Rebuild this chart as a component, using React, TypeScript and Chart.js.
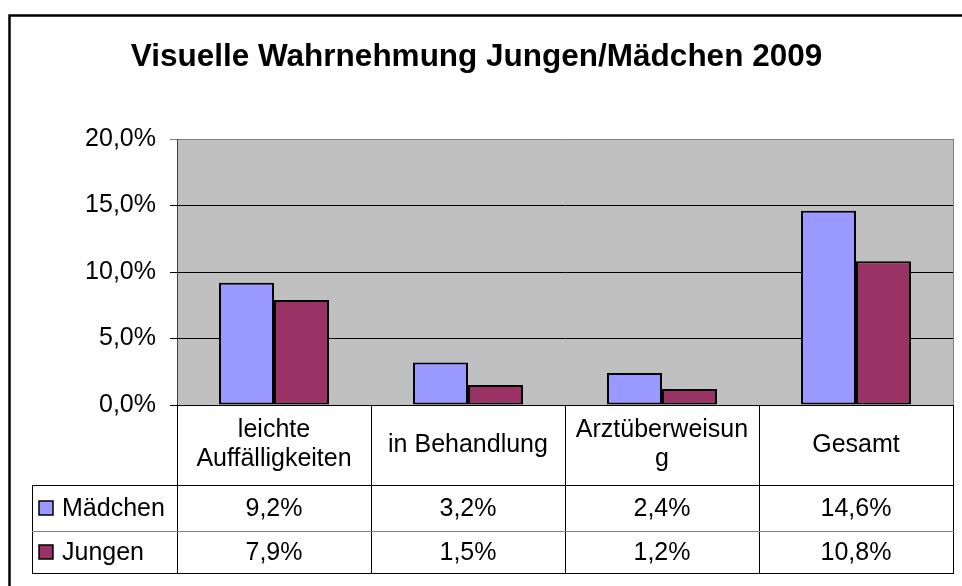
import React, { useEffect, useRef } from "react";
import { Chart, registerables } from "chart.js";

Chart.register(...registerables);

const titleText = "Visuelle Wahrnehmung Jungen/Mädchen 2009";
const categories: string[][] = [
  ["leichte", "Auffälligkeiten"],
  ["in Behandlung"],
  ["Arztüberweisun", "g"],
  ["Gesamt"],
];
const seriesNames = ["Mädchen", "Jungen"];
const maedchen = [9.2, 3.2, 2.4, 14.6];
const jungen = [7.9, 1.5, 1.2, 10.8];
const seriesColors = ["#9999FF", "#993366"];
const yMin = 0;
const yMax = 20;
const yStep = 5;

const FONT = "'Liberation Sans', Arial, sans-serif";
const fmt = (v: number) => v.toFixed(1).replace(".", ",") + "%";

const W = 962;
const H = 586;

const framePlugin = {
  id: "excelFrame",
  beforeDraw(chart: any) {
    const { ctx, chartArea: a } = chart;
    ctx.save();
    ctx.fillStyle = "#ffffff";
    ctx.fillRect(0, 0, W, H);
    ctx.fillStyle = "#C0C0C0";
    ctx.fillRect(a.left, a.top, a.right - a.left, a.bottom - a.top);
    ctx.restore();
  },
  afterDraw(chart: any) {
    const { ctx, chartArea: a } = chart;
    const x = chart.scales.x;
    ctx.save();
    // plot right border
    ctx.strokeStyle = "#808080";
    ctx.lineWidth = 1;
    ctx.beginPath();
    ctx.moveTo(a.right + 0.5, a.top);
    ctx.lineTo(a.right + 0.5, a.bottom);
    ctx.stroke();

    // data table
    const n = categories.length;
    const catW = (a.right - a.left) / n;
    const headerBottom = a.bottom + 80;
    const row1Bottom = headerBottom + 46;
    const row2Bottom = row1Bottom + 42;
    const tableLeft = 32;

    ctx.strokeStyle = "#000000";
    ctx.lineWidth = 1;
    ctx.beginPath();
    for (let i = 0; i <= n; i++) {
      const px = Math.round(a.left + i * catW) + 0.5;
      ctx.moveTo(px, a.bottom);
      ctx.lineTo(px, row2Bottom);
    }
    ctx.moveTo(tableLeft + 0.5, headerBottom);
    ctx.lineTo(tableLeft + 0.5, row2Bottom);
    ctx.moveTo(tableLeft, headerBottom + 0.5);
    ctx.lineTo(a.right + 1, headerBottom + 0.5);
    ctx.moveTo(tableLeft, row2Bottom + 0.5);
    ctx.lineTo(a.right + 1, row2Bottom + 0.5);
    ctx.stroke();
    ctx.strokeStyle = "#808080";
    ctx.beginPath();
    ctx.moveTo(tableLeft, row1Bottom + 0.5);
    ctx.lineTo(a.right + 1, row1Bottom + 0.5);
    ctx.stroke();

    ctx.fillStyle = "#000000";
    ctx.font = `25px ${FONT}`;
    ctx.textAlign = "center";
    ctx.textBaseline = "middle";
    const lh = 29;
    categories.forEach((lines, i) => {
      const cx = x.getPixelForValue(i);
      const cy = (a.bottom + headerBottom) / 2;
      const start = cy - ((lines.length - 1) * lh) / 2;
      lines.forEach((t, j) => ctx.fillText(t, cx, start + j * lh));
    });
    const rows = [maedchen, jungen];
    const rowCenters = [(headerBottom + row1Bottom) / 2, (row1Bottom + row2Bottom) / 2];
    rows.forEach((vals, r) => {
      vals.forEach((v, i) => {
        ctx.fillText(fmt(v), x.getPixelForValue(i), rowCenters[r] + 1);
      });
      // legend key
      const sy = rowCenters[r];
      ctx.fillStyle = seriesColors[r];
      ctx.fillRect(39, sy - 7, 14, 14);
      ctx.strokeStyle = "#000000";
      ctx.lineWidth = 1.5;
      ctx.strokeRect(39, sy - 7, 14, 14);
      ctx.fillStyle = "#000000";
      ctx.textAlign = "left";
      ctx.fillText(seriesNames[r], 62, sy + 1);
      ctx.textAlign = "center";
    });

    // outer chart frame
    ctx.strokeStyle = "#000000";
    ctx.lineWidth = 2.5;
    ctx.strokeRect(9.5, 15.5, W + 20, H + 20);
    ctx.restore();
  },
};

export default function App() {
  const ref = useRef<HTMLCanvasElement>(null);
  useEffect(() => {
    if (!ref.current) return;
    const chart = new Chart(ref.current, {
      type: "bar",
      data: {
        labels: categories.map((c) => c.join(" ")),
        datasets: [
          {
            label: seriesNames[0],
            data: maedchen,
            backgroundColor: seriesColors[0],
            borderColor: "#000000",
            borderWidth: 2,
            borderSkipped: false,
            categoryPercentage: 0.567,
            barPercentage: 1,
          },
          {
            label: seriesNames[1],
            data: jungen,
            backgroundColor: seriesColors[1],
            borderColor: "#000000",
            borderWidth: 2,
            borderSkipped: false,
            categoryPercentage: 0.567,
            barPercentage: 1,
          },
        ],
      },
      options: {
        responsive: false,
        animation: false,
        devicePixelRatio: 1,
        layout: { padding: { left: 0, right: 9, top: 0, bottom: 0 } },
        plugins: {
          legend: { display: false },
          tooltip: { enabled: false },
          title: {
            display: true,
            text: titleText,
            color: "#000000",
            font: { family: FONT, size: 31.5, weight: "bold" },
            padding: { top: 38, bottom: 63.2 },
          },
        },
        scales: {
          x: {
            ticks: { display: false },
            grid: { display: false },
            border: { display: true, color: "#000000", width: 1 },
            afterFit: (s: any) => {
              s.height = 181;
            },
          },
          y: {
            min: yMin,
            max: yMax,
            ticks: {
              stepSize: yStep,
              color: "#000000",
              padding: 14,
              font: { family: FONT, size: 25 },
              callback: (v: any) => fmt(Number(v)),
            },
            grid: {
              color: (c: any) => (c.tick && c.tick.value === yMax ? "#808080" : "#000000"),
              tickLength: 7,
              drawTicks: true,
              lineWidth: 1,
            },
            border: { display: true, color: "#404040", width: 1 },
            afterFit: (s: any) => {
              s.width = 177;
            },
          },
        },
      },
      plugins: [framePlugin],
    } as any);
    return () => chart.destroy();
  }, []);
  return (
    <div style={{ position: "fixed", left: 0, top: 0, width: W, height: H, background: "#fff" }}>
      <canvas ref={ref} width={W} height={H} style={{ width: W, height: H, display: "block" }} />
    </div>
  );
}
